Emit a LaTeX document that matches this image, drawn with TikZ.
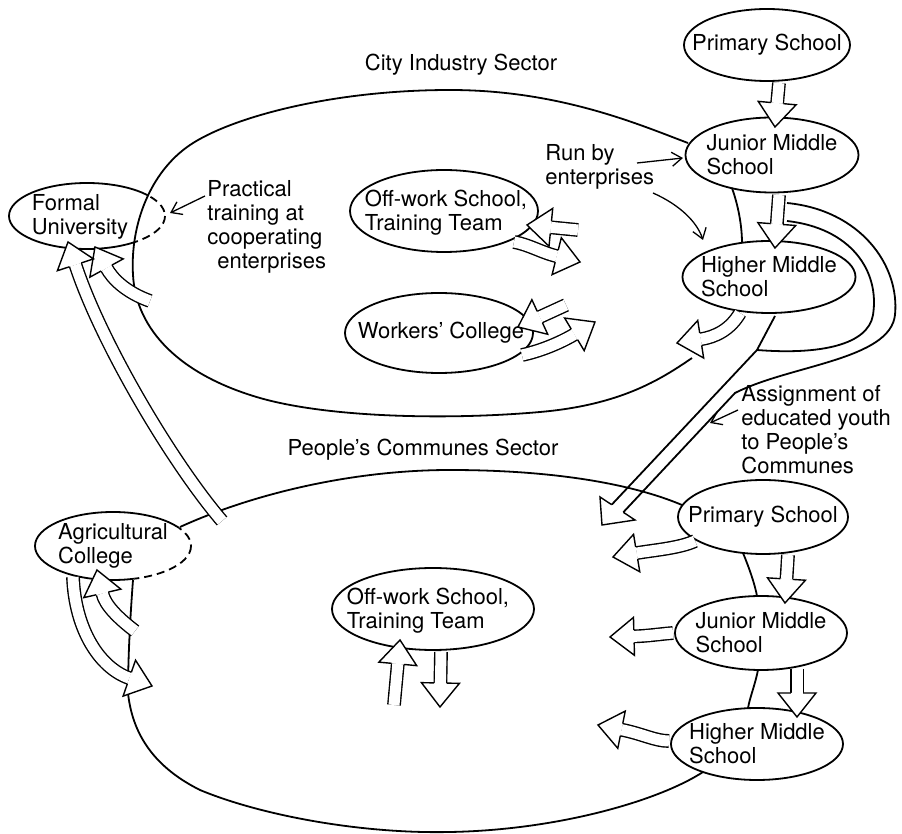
\documentclass[tikz,border=0pt]{standalone}
\usepackage{fontspec}
\setmainfont{TeX Gyre Heros}
\usetikzlibrary{calc,shapes.geometric,arrows.meta}
% hollow block arrow: #1 tail, #2 control 1, #3 control 2, #4 tip
\newcommand{\barrow}[4]{%
  \coordinate (hb) at ($(#4)!12pt!(#3)$);
  \draw[band] (#1) .. controls (#2) and (#3) .. (hb);
  \filldraw[bhead] ($(hb)!3.1pt!90:(#4)$) -- ($(hb)!9.5pt!90:(#4)$) -- (#4) -- ($(hb)!9.5pt!-90:(#4)$) -- ($(hb)!3.1pt!-90:(#4)$);
}
\begin{document}
\begin{tikzpicture}[x=0.5pt,y=-0.5pt,
  font=\fontsize{11}{12}\selectfont,
  outline/.style={line width=0.9pt},
  ell/.style={ellipse, draw, line width=0.9pt, inner sep=0pt},
  lbl/.style={align=left, inner sep=0pt},
  band/.style={double=white, double distance=5.5pt, line width=0.7pt},
  bhead/.style={fill=white, line width=0.7pt, line join=miter},
  thin/.style={line width=0.65pt, -{Straight Barb[length=5pt,width=7pt]}}]
\useasboundingbox (0,0) rectangle (902,834);

% ---------- ellipses with text ----------
\node[ell, minimum width=83pt, minimum height=36pt] (ps1) at (767,45) {};
\node[lbl] (ps1t) at (ps1) {Primary School};
\node[ell, minimum width=86.5pt, minimum height=37.5pt] (jm1) at (772,155) {};
\node[lbl] (jm1t) at (jm1) {Junior Middle\\School};
\node[ell, minimum width=86.5pt, minimum height=36pt] (hm1) at (769,277) {};
\node[lbl] (hm1t) at (hm1) {Higher Middle\\School};
\node[ell, minimum width=94pt, minimum height=41pt] (ow1) at (444,211) {};
\node[lbl] (ow1t) at (446,213) {Off-work School,\\Training Team};
\node[ell, minimum width=94pt, minimum height=40pt] (wc) at (439,333) {};
\node[lbl] (wct) at (441,333) {Workers' College};
\node[ell, minimum width=85pt, minimum height=37pt] (ps2) at (763,517) {};
\node[lbl] (ps2t) at (ps2) {Primary School};
\node[ell, minimum width=86pt, minimum height=37pt] (jm2) at (761,633) {};
\node[lbl] (jm2t) at (jm2) {Junior Middle\\School};
\node[ell, minimum width=86pt, minimum height=36pt] (hm2) at (757,744) {};
\node[lbl] (hm2t) at (hm2) {Higher Middle\\School};
\node[ell, minimum width=101pt, minimum height=41pt] (ow2) at (433,609) {};
\node[lbl] (ow2t) at (428,611) {Off-work School,\\Training Team};

% Formal University (dashed inside the city sector)
\coordinate (fuc) at (87,216);
\draw[outline] (fuc) ellipse [x radius=78, y radius=33];
\begin{scope}
  \clip (688,143) .. controls (640,125) and (560,90) .. (450,90) .. controls (330,90) and (230,118) .. (190,145) .. controls (150,172) and (130,225) .. (133,275) .. controls (136,330) and (180,375) .. (260,398) .. controls (330,418) and (450,420) .. (540,412) .. controls (620,405) and (660,380) .. (692,358) -- cycle;
  \draw[white, line width=2.6pt] (fuc) ellipse [x radius=78, y radius=33];
  \draw[outline, dash pattern=on 4pt off 2.5pt] (fuc) ellipse [x radius=78, y radius=33];
\end{scope}
\node[lbl] (fut) at (80,217) {Formal\\University};

% Agricultural College (dashed inside the communes sector)
\coordinate (agc) at (113,546);
\draw[outline] (agc) ellipse [x radius=78, y radius=34];
\begin{scope}
  \clip (180,527) .. controls (250,495) and (350,470) .. (450,470) .. controls (550,470) and (630,483) .. (680,505) -- (703,772) .. controls (660,800) and (560,830) .. (450,832) .. controls (360,834) and (260,815) .. (200,790) .. controls (150,765) and (132,730) .. (128,693) .. controls (128,660) and (130,620) .. (133,580) -- cycle;
  \draw[white, line width=2.6pt] (agc) ellipse [x radius=78, y radius=34];
  \draw[outline, dash pattern=on 4pt off 2.5pt] (agc) ellipse [x radius=78, y radius=34];
\end{scope}
\node[lbl] (agt) at (113,546) {Agricultural\\College};

% ---------- sector outlines ----------
\draw[outline] (688,143) .. controls (640,125) and (560,90) .. (450,90) .. controls (330,90) and (230,118) .. (190,145) .. controls (150,172) and (130,225) .. (133,275) .. controls (136,330) and (180,375) .. (260,398) .. controls (330,418) and (450,420) .. (540,412) .. controls (620,405) and (660,380) .. (692,358);
\draw[outline] (732,188) .. controls (738,205) and (742,225) .. (742,243);
\draw[outline] (180,527) .. controls (250,495) and (350,470) .. (450,470) .. controls (550,470) and (630,483) .. (682,505);
\draw[outline] (743,553) .. controls (750,570) and (755,585) .. (757,596);
\draw[outline] (758,670) .. controls (755,685) and (750,697) .. (748,708);
\draw[outline] (703,772) .. controls (660,800) and (560,830) .. (450,832) .. controls (360,834) and (260,815) .. (200,790) .. controls (150,765) and (132,730) .. (128,693) .. controls (128,660) and (130,620) .. (133,580);

% ---------- labels ----------
\node[lbl] (cis) at (461,65) {City Industry Sector};
\node[lbl] (pcs) at (423,450) {People's Communes Sector};
\node[lbl, anchor=west] (prac) at (207,227) {Practical\\training at\\cooperating\\\hspace*{5pt}enterprises};
\node[lbl, anchor=west] (run) at (545,167) {Run by\\enterprises};
\node[lbl, anchor=west] (asg) at (741,430) {Assignment of\\educated youth\\to People's\\Communes};

% ---------- thin pointers ----------
\draw[thin] (205,196) -- (170,213);
\draw[thin] (637,163) -- (683,158);
\draw[thin] (653,193) .. controls (680,205) and (697,222) .. (703,240);
\draw[thin] (738,410) -- (710,423);

% ---------- U band and assignment arrow ----------
\draw[outline] (775,316) -- (757,350) -- (611.7,504.7);
\draw[outline] (787,203) .. controls (860,210) and (900,265) .. (895,315) .. controls (890,360) and (790,365) .. (735,393) -- (623.3,512.3);
\draw[outline] (787,221) .. controls (850,228) and (880,270) .. (873,315) .. controls (868,345) and (820,355) .. (757,350);
\filldraw[bhead] (611.7,504.7) -- (600,497) -- (602,525) -- (635,520) -- (623.3,512.3);

% ---------- block arrows ----------
\barrow{779,83}{779,83}{779,83}{775,127}
\barrow{779,195}{779,195}{779,195}{775,248}
\barrow{578,230}{578,230}{578,230}{527,225}
\barrow{514,242}{530,245}{540,252}{580,262}
\barrow{566,305}{566,305}{566,305}{518,327}
\barrow{522,355}{545,350}{565,340}{595,322}
\barrow{740,313}{730,330}{715,337}{677,343}
\barrow{150,301}{125,292}{112,278}{95,247}
\barrow{222,521}{170,460}{100,340}{68,242}
\barrow{73,577}{75,630}{100,668}{152,686}
\barrow{135,631}{118,618}{105,605}{97,570}
\barrow{394,705}{394,705}{394,705}{400,640}
\barrow{441,652}{441,652}{441,652}{440,707}
\barrow{788,555}{788,555}{788,555}{785,603}
\barrow{797,669}{797,669}{797,669}{797,717}
\barrow{695,541}{680,548}{655,550}{613,557}
\barrow{673,633}{660,634}{648,636}{610,637}
\barrow{669,741}{655,741}{643,734}{598,725}
\end{tikzpicture}
\end{document}
